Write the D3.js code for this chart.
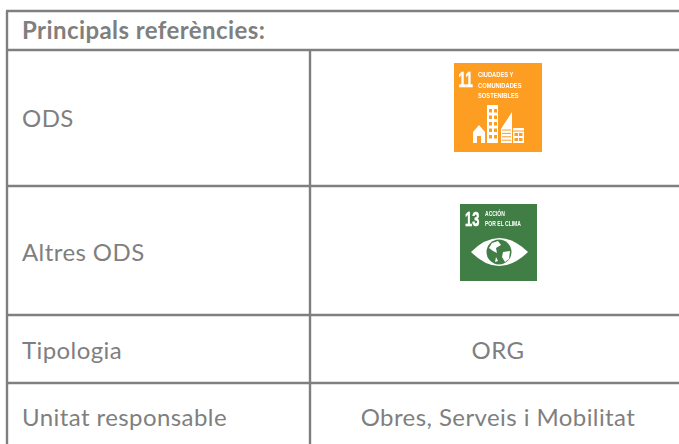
<!DOCTYPE html>
<html>
<head>
<meta charset="utf-8">
<script src="https://cdn.jsdelivr.net/npm/d3@7"></script>
<style>
  html, body { margin: 0; padding: 0; background: #fff; overflow: hidden; }
  svg { display: block; }
  text { font-family: Lato, "Open Sans", sans-serif; }
  .tile-text { font-family: "Liberation Sans", sans-serif; font-weight: 700; fill: #fff; }
</style>
</head>
<body>
<script>
// Table content
const title = 'Principals referències:';
const rowLabels = ['ODS', 'Altres ODS', 'Tipologia', 'Unitat responsable'];
const rowValues = ['', '', 'ORG', 'Obres, Serveis i Mobilitat'];

const ods11Lines = ['CIUDADES Y', 'COMUNIDADES', 'SOSTENIBLES'];
const ods13Lines = ['ACCIÓN', 'POR EL CLIMA'];

const width = 679;
const height = 444;
const grey = '#7f7f7f';
const fontSize = 24;
const spacing = 0.42;

// Column and row edges of the table
const tableLeft = 7, colSplit = 310, tableRight = 679;
const tableTop = 11, headerBottom = 50;
const rowEdges = [headerBottom, 186, 315, 383];
const rowCenters = [118.6, 252.6, 350.6, 417.6];

const svg = d3.select('body')
    .append('svg')
    .attr('width', width)
    .attr('height', height);

// Grid lines
const grid = svg.append('g')
    .attr('stroke', grey)
    .attr('stroke-width', 2.4)
    .attr('fill', 'none');

grid.selectAll('.h-line')
    .data([tableTop, ...rowEdges])
    .enter()
    .append('line')
    .attr('class', 'h-line')
    .attr('x1', tableLeft - 1)
    .attr('x2', tableRight)
    .attr('y1', d => d)
    .attr('y2', d => d);

grid.append('line')
    .attr('x1', tableLeft)
    .attr('x2', tableLeft)
    .attr('y1', tableTop)
    .attr('y2', height);

grid.append('line')
    .attr('x1', colSplit)
    .attr('x2', colSplit)
    .attr('y1', headerBottom)
    .attr('y2', height);

// Header
svg.append('text')
    .attr('x', 22)
    .attr('y', 39)
    .attr('fill', grey)
    .attr('font-size', fontSize)
    .attr('font-weight', 700)
    .attr('letter-spacing', spacing)
    .text(title);

// Rows
svg.selectAll('.row-label')
    .data(rowLabels)
    .enter()
    .append('text')
    .attr('class', 'row-label')
    .attr('x', 22)
    .attr('y', (d, i) => rowCenters[i])
    .attr('dy', '0.35em')
    .attr('fill', grey)
    .attr('font-size', fontSize)
    .attr('letter-spacing', spacing)
    .text(d => d);

svg.selectAll('.row-value')
    .data(rowValues)
    .enter()
    .append('text')
    .attr('class', 'row-value')
    .attr('x', 498)
    .attr('y', (d, i) => rowCenters[i])
    .attr('dy', '0.35em')
    .attr('text-anchor', 'middle')
    .attr('fill', grey)
    .attr('font-size', fontSize)
    .attr('letter-spacing', spacing)
    .text(d => d);

// Big goal number on an SDG tile, narrowed with a transform
function tileNumber(g, label, x, y, size, sx) {
    g.append('text')
        .attr('class', 'tile-text')
        .attr('transform', `translate(${x},${y}) scale(${sx},1)`)
        .attr('font-size', size)
        .attr('stroke', '#fff')
        .attr('stroke-width', 0.5)
        .text(label);
}

// Small text block on an SDG tile, also narrowed
function tileLines(g, lines, x, y0, step, size, sx) {
    g.selectAll('.tile-line')
        .data(lines)
        .enter()
        .append('text')
        .attr('class', 'tile-line tile-text')
        .attr('transform', (d, i) => `translate(${x},${y0 + i * step}) scale(${sx},1)`)
        .attr('font-size', size)
        .text(d => d);
}

svg.append('defs')
    .append('filter')
    .attr('id', 'soft')
    .append('feGaussianBlur')
    .attr('stdDeviation', 0.35);

// ODS 11 tile
const orange = '#fd9d24';
const t11 = svg.append('g')
    .attr('transform', 'translate(454,63)')
    .attr('filter', 'url(#soft)');

t11.append('rect').attr('width', 88).attr('height', 89).attr('fill', orange);

tileNumber(t11, '11', 4.5, 24, 22, 0.62);
tileLines(t11, ods11Lines, 24, 14, 10.5, 8, 0.72);

// house
t11.append('path').attr('fill', '#fff')
    .attr('d', 'M19,69 L25,62 L31,69 L31,80 L27,80 L27,73 L23,73 L23,80 L19,80 Z');

// tower with windows
t11.append('rect').attr('x', 33).attr('y', 42).attr('width', 11).attr('height', 38).attr('fill', '#fff');
[35, 40].forEach(x => {
    t11.selectAll(null)
        .data(d3.range(5))
        .enter()
        .append('rect')
        .attr('x', x)
        .attr('y', d => 46 + d * 6.5)
        .attr('width', 3)
        .attr('height', 3.5)
        .attr('fill', orange);
});

// wedge building
t11.append('path').attr('fill', '#fff').attr('d', 'M47,66 L58,49 L58,80 L47,80 Z');
d3.range(4).forEach(i => {
    t11.append('line')
        .attr('x1', 48).attr('x2', 57)
        .attr('y1', 67 + i * 3.4).attr('y2', 67 + i * 3.4)
        .attr('stroke', orange).attr('stroke-width', 1);
});

// low building
t11.append('rect').attr('x', 59).attr('y', 65).attr('width', 11).attr('height', 15).attr('fill', '#fff');
t11.append('line').attr('x1', 59).attr('x2', 70).attr('y1', 68).attr('y2', 68).attr('stroke', orange);
[60.5, 65].forEach(x => {
    [70, 75].forEach(y => {
        t11.append('rect').attr('x', x).attr('y', y).attr('width', 3.5).attr('height', 3).attr('fill', orange);
    });
});

// ODS 13 tile
const green = '#3f7e44';
const t13 = svg.append('g')
    .attr('transform', 'translate(460,204)')
    .attr('filter', 'url(#soft)');

t13.append('rect').attr('width', 77).attr('height', 77).attr('fill', green);

tileNumber(t13, '13', 5, 22, 21, 0.62);
tileLines(t13, ods13Lines, 25, 12, 10, 7, 0.72);

// eye and globe
t13.append('path').attr('fill', '#fff')
    .attr('d', 'M11,48 Q39,20 68,48 Q39,76 11,48 Z');
t13.append('circle').attr('cx', 39).attr('cy', 48).attr('r', 12.5).attr('fill', green);
t13.append('path').attr('fill', '#fff')
    .attr('d', 'M32,39 L38,37 L41,41 L36,44 L37,49 L33,47 L29,44 Z M43,48 L50,47 L49,55 L45,58 L42,53 Z M36,53 L38,57 L35,58 Z');
</script>
</body>
</html>
